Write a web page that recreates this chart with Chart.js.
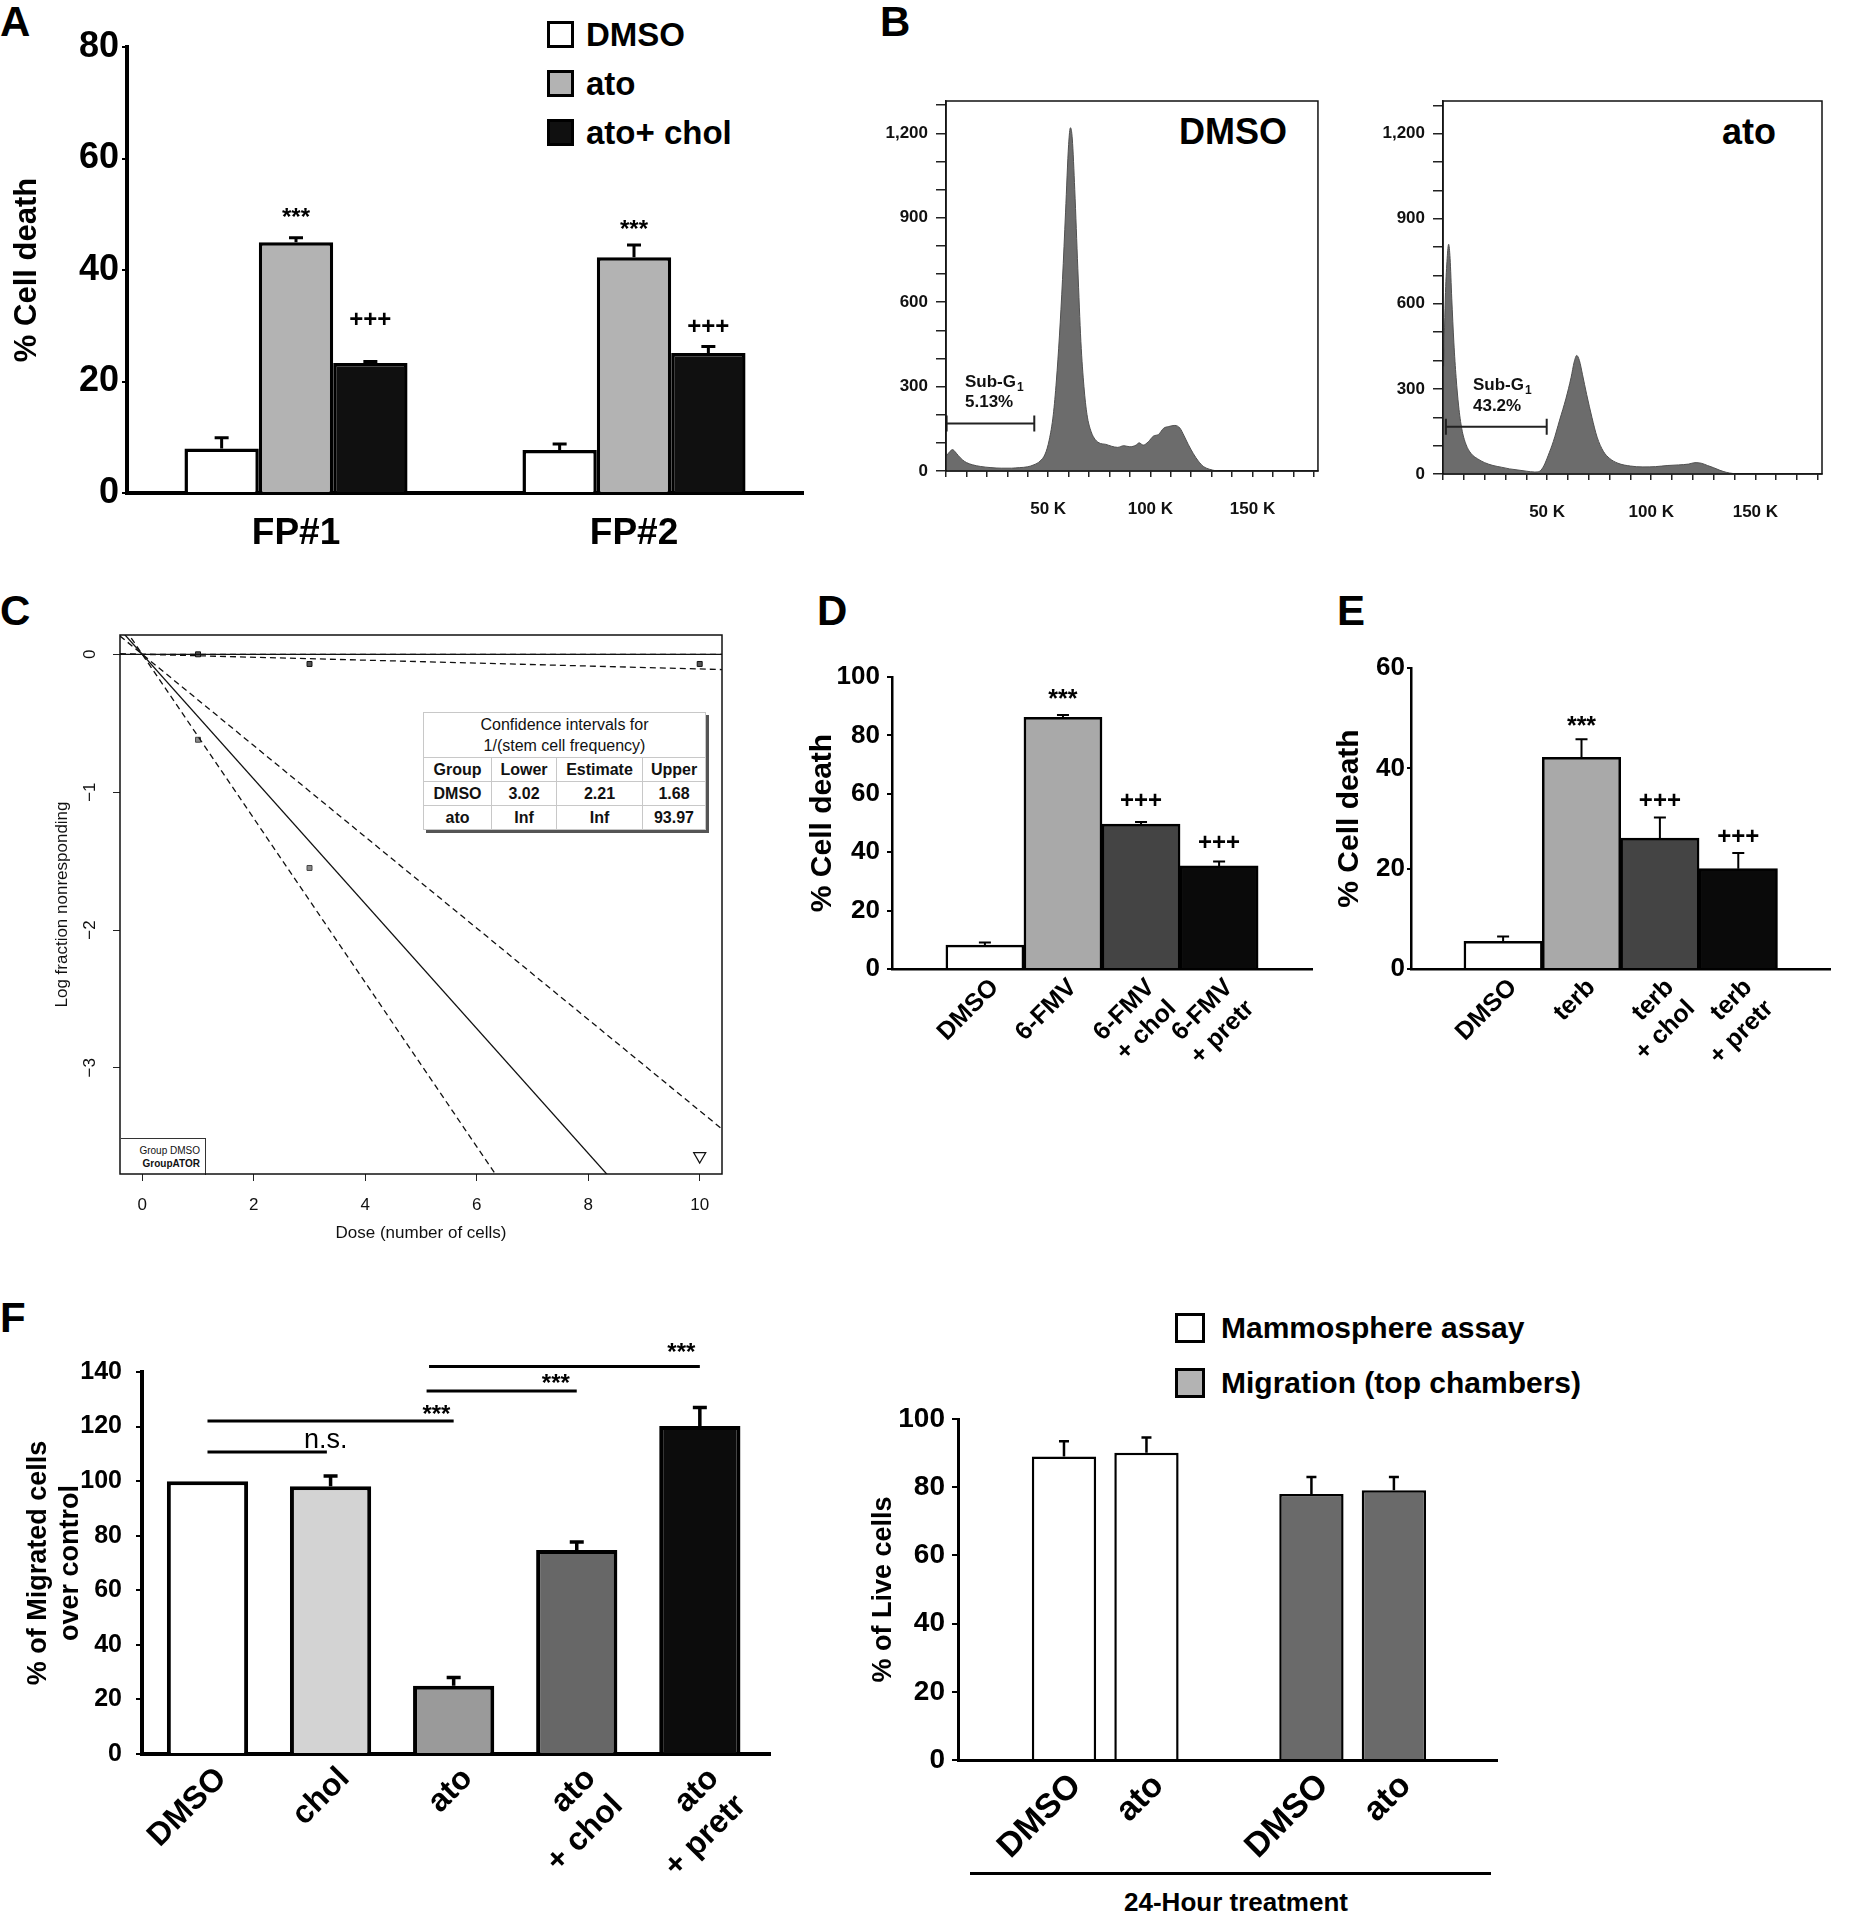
<!DOCTYPE html>
<html>
<head>
<meta charset="utf-8">
<title>Cell death, sub-G1, stem cell frequency and migration</title>
<script src="https://cdn.jsdelivr.net/npm/chart.js@4.4.1/dist/chart.umd.min.js"></script>
<style>
  html, body { margin: 0; padding: 0; background: #fff; }
  body { position: relative; width: 1850px; height: 1915px; overflow: hidden;
         font-family: "Liberation Sans", Arial, sans-serif; color: #000; }
  canvas { position: absolute; }
  .letter { position: absolute; font-size: 42px; font-weight: bold; line-height: 1; }
  .leg { position: absolute; display: flex; align-items: center; font-weight: bold; line-height: 1; white-space: nowrap; }
  .leg span { display: inline-block; box-sizing: border-box; border: 3px solid #000; }
  .tag { position: absolute; font-weight: bold; line-height: 1; text-align: center; }
  #ci { position: absolute; left: 423px; top: 712px; border-collapse: collapse; background: #fff;
        box-shadow: 3px 3px 0 #555; font-size: 16px; color: #111; }
  #ci td { border: 1px solid #c8c8c8; text-align: center; padding: 0; height: 23px; font-weight: bold; }
  #ci td.cap { font-weight: normal; height: 44px; line-height: 21px; }
  #cleg { position: absolute; left: 121px; top: 1138px; width: 85px; height: 37px; box-sizing: border-box;
          border-top: 1px solid #333; border-right: 1px solid #333; font-size: 10px; line-height: 13px;
          text-align: right; padding: 5px 5px 0 0; color: #111; }
</style>
</head>
<body>
<div class="letter" style="left:0;top:1px">A</div>
<div class="letter" style="left:880px;top:1px">B</div>
<div class="letter" style="left:0;top:590px">C</div>
<div class="letter" style="left:817px;top:590px">D</div>
<div class="letter" style="left:1337px;top:590px">E</div>
<div class="letter" style="left:0;top:1297px">F</div>

<div class="tag" style="left:1133px;top:114px;width:200px;font-size:36px">DMSO</div>
<div class="tag" style="left:1649px;top:114px;width:200px;font-size:36px">ato</div>

<table id="ci"></table>
<div id="cleg">Group DMSO<br><b>GroupATOR</b></div>

<div style="position:absolute;left:970px;top:1872px;width:521px;height:3px;background:#000"></div>
<div class="tag" style="left:1086px;top:1889px;width:300px;font-size:26px">24-Hour treatment</div>

<script>
// ---- A: % cell death in two patient samples
const aGroups = ['FP#1', 'FP#2'];
const aTreatments = ['DMSO', 'ato', 'ato+ chol'];
const aColors = ['#ffffff', '#b3b3b3', '#101010'];
const aDmso = [8.0, 7.7];
const aDmsoErr = [1.9, 1.1];
const aAto = [45.0, 42.3];
const aAtoErr = [0.8, 2.2];
const aChol = [23.3, 25.1];
const aCholErr = [0.3, 1.2];
const aAtoSig = ['***', '***'];
const aAtoSigAt = [48.1, 45.9];
const aCholSig = ['+++', '+++'];
const aCholSigAt = [29.7, 28.6];

// ---- B: DNA content histograms (channel in K, event count)
const bDmsoChannel = [0.3, 2, 3.2, 4.5, 6, 8, 10, 13, 17, 22, 27, 32, 36, 40, 43, 46, 48.5, 50.5, 52.5, 54,
  55.5, 57, 58.5, 60, 60.9, 61.8, 63, 64.5, 66, 67.5, 69, 71, 73, 75.5, 78, 81, 84, 87, 90, 93,
  94.5, 96.5, 99, 101.5, 104, 106.5, 109, 112, 114.5, 116.5, 118.5, 121, 123.5, 126, 129, 132, 134, 182];
const bDmsoCount = [55, 70, 76, 68, 55, 40, 30, 22, 16, 12, 10, 10, 12, 15, 22, 35, 60, 110, 200, 320,
  480, 680, 920, 1160, 1220, 1180, 1000, 720, 460, 300, 200, 140, 112, 98, 95, 88, 84, 90, 86, 92,
  100, 92, 104, 124, 130, 152, 158, 162, 152, 125, 95, 62, 35, 16, 6, 1, 0, 0];
const bAtoChannel = [0.3, 1.2, 2.0, 2.7, 3.4, 4.2, 5.2, 6.3, 7.5, 9, 11, 13.5, 16.5, 20, 24, 28, 32, 36, 40, 44,
  46.5, 48.5, 50.5, 53, 56, 59, 61.5, 63, 64.2, 65.5, 67, 69, 71.5, 74, 77, 80, 84, 90, 96, 102,
  108, 113, 118, 121, 124, 127, 130, 133, 136, 139, 142, 182];
const bAtoCount = [380, 640, 760, 810, 760, 620, 465, 340, 240, 160, 105, 72, 54, 40, 30, 24, 18, 14, 10, 7,
  10, 30, 65, 115, 190, 265, 340, 395, 418, 400, 350, 280, 200, 130, 80, 55, 38, 28, 25, 26,
  30, 32, 35, 40, 38, 30, 22, 13, 6, 2, 0, 0];
const bGateName = ['Sub-G', '1'];
const bSubG1 = ['5.13%', '43.2%'];
const bGateFrom = [0.3, 1.4];
const bGateTo = [43.2, 49.8];
const bGateLevel = [169, 167];
const bLabelX = [9.3, 14.4];
const bLabelAt = [299, 296];
const bPctAt = [228, 223];

// ---- C: limiting dilution, confidence intervals for 1/(stem cell frequency)
const ciHeader = ['Group', 'Lower', 'Estimate', 'Upper'];
const ciGroups = ['DMSO', 'ato'];
const ciLower = [3.02, Infinity];
const ciEstimate = [2.21, Infinity];
const ciUpper = [1.68, 93.97];
const cDose = [1, 3, 10];
const cSteepLog = [-0.62, -1.55, null];
const cFlatLog = [0, -0.07, -0.07];
const cCensoredDose = [10];
const cCensoredLog = [-3.64];

// ---- D: 6-FMV
const dPos = [1, 2, 3, 4];
const dLabels = ['DMSO', '6-FMV', ['6-FMV', '+ chol'], ['6-FMV', '+ pretr']];
const dValues = [8.2, 86.2, 49.6, 35.3];
const dErr = [0.9, 0.8, 0.7, 1.5];
const dSig = ['', '***', '+++', '+++'];
const dSigAt = [0, 89.7, 55.1, 40.8];

// ---- E: terbinafine
const ePos = [1, 2, 3, 4];
const eLabels = ['DMSO', 'terb', ['terb', '+ chol'], ['terb', '+ pretr']];
const eValues = [5.5, 42.2, 26.1, 20.0];
const eErr = [1.0, 3.6, 4.1, 3.1];
const eSig = ['', '***', '+++', '+++'];
const eSigAt = [0, 46.8, 32.0, 25.0];

const cdColors = ['#ffffff', '#a9a9a9', '#444444', '#0a0a0a'];

// ---- F left: migration
const fPos = [1, 2, 3, 4, 5];
const fLabels = ['DMSO', 'chol', 'ato', ['ato', '+ chol'], ['ato', '+ pretr']];
const fValues = [100, 98.1, 25.0, 74.8, 120.2];
const fErr = [0, 3.8, 3.0, 2.9, 6.8];
const fColors = ['#ffffff', '#d3d3d3', '#9a9a9a', '#676767', '#0c0c0c'];
const fBracketFrom = [1, 1, 2.78, 2.8];
const fBracketTo = [1.97, 3, 4, 5];
const fBracketAt = [110.7, 122, 133, 142];
const fBracketText = ['n.s.', '***', '***', '***'];
const fBracketTextX = [1.96, 2.86, 3.83, 4.85];
const fBracketTextAt = [112, 121.7, 133, 144.4];

// ---- F right: live cells after 24 h
const gPos = [1, 2, 4, 5];
const gLabels = ['DMSO', 'ato', 'DMSO', 'ato'];
const gSeries = ['Mammosphere assay', 'Migration (top chambers)'];
const gMammo = [89.0, 90.1];
const gMammoErr = [4.5, 4.5];
const gMigr = [78.0, 79.1];
const gMigrErr = [5.0, 3.9];

const FONT = '"Liberation Sans", Arial, sans-serif';
Chart.defaults.font.family = FONT;
Chart.defaults.color = '#000';
Chart.defaults.animation = false;
Chart.defaults.responsive = false;
Chart.defaults.plugins.legend.display = false;
Chart.defaults.plugins.tooltip.enabled = false;

function place(left, top, width, height) {
  const c = document.createElement('canvas');
  c.width = width;
  c.height = height;
  c.style.left = left + 'px';
  c.style.top = top + 'px';
  document.body.appendChild(c);
  return c;
}

function legend(x, y, gap, box, size, margin, labels, colors) {
  labels.forEach((t, i) => {
    const row = document.createElement('div');
    row.className = 'leg';
    row.style.left = x + 'px';
    row.style.top = (y + i * gap) + 'px';
    row.style.fontSize = size + 'px';
    row.innerHTML = '<span style="width:' + box + 'px;height:' + box + 'px;margin-right:' + margin +
      'px;background:' + colors[i] + '"></span>' + t;
    document.body.appendChild(row);
  });
}

// error bars pointing up from the bar top
function errorBars(lineWidth, cap) {
  return {
    id: 'errorBars',
    afterDatasetsDraw(chart) {
      const ctx = chart.ctx, ys = chart.scales.y;
      ctx.save();
      ctx.strokeStyle = '#000';
      ctx.lineWidth = lineWidth;
      chart.data.datasets.forEach((ds, di) => {
        if (!ds.errUp) return;
        chart.getDatasetMeta(di).data.forEach((bar, i) => {
          const e = ds.errUp[i];
          if (!e) return;
          const raw = ds.data[i];
          const v = typeof raw === 'object' ? raw.y : raw;
          const top = ys.getPixelForValue(v + e);
          ctx.beginPath();
          ctx.moveTo(bar.x, bar.y);
          ctx.lineTo(bar.x, top);
          ctx.moveTo(bar.x - cap, top);
          ctx.lineTo(bar.x + cap, top);
          ctx.stroke();
        });
      });
      ctx.restore();
    }
  };
}

function sigMarks(fonts) {
  return {
    id: 'sigMarks',
    afterDatasetsDraw(chart) {
      const ctx = chart.ctx, ys = chart.scales.y;
      ctx.save();
      ctx.fillStyle = '#000';
      ctx.textAlign = 'center';
      ctx.textBaseline = 'alphabetic';
      chart.data.datasets.forEach((ds, di) => {
        if (!ds.sig) return;
        chart.getDatasetMeta(di).data.forEach((bar, i) => {
          if (!ds.sig[i]) return;
          ctx.font = fonts[ds.sig[i]];
          ctx.fillText(ds.sig[i], bar.x, ys.getPixelForValue(ds.sigAt[i]));
        });
      });
      ctx.restore();
    }
  };
}

const frame = {
  id: 'frame',
  afterDraw(chart) {
    const {ctx, chartArea: a} = chart;
    ctx.save();
    ctx.strokeStyle = '#111';
    ctx.lineWidth = 1.5;
    ctx.strokeRect(a.left, a.top, a.right - a.left, a.bottom - a.top);
    ctx.restore();
  }
};

function gate(i) {
  return {
    id: 'gate',
    afterDatasetsDraw(chart) {
      const {ctx, scales: {x, y}} = chart;
      const x1 = x.getPixelForValue(bGateFrom[i]);
      const x2 = x.getPixelForValue(bGateTo[i]);
      const gy = y.getPixelForValue(bGateLevel[i]);
      ctx.save();
      ctx.strokeStyle = '#222';
      ctx.lineWidth = 2;
      ctx.beginPath();
      ctx.moveTo(x1, gy); ctx.lineTo(x2, gy);
      ctx.moveTo(x1, gy - 8); ctx.lineTo(x1, gy + 8);
      ctx.moveTo(x2, gy - 8); ctx.lineTo(x2, gy + 8);
      ctx.stroke();
      const lx = x.getPixelForValue(bLabelX[i]);
      const base = y.getPixelForValue(bLabelAt[i]);
      ctx.fillStyle = '#111';
      ctx.textAlign = 'left';
      ctx.textBaseline = 'alphabetic';
      ctx.font = 'bold 17px ' + FONT;
      ctx.fillText(bGateName[0], lx, base);
      const w = ctx.measureText(bGateName[0]).width;
      ctx.font = 'bold 12px ' + FONT;
      ctx.fillText(bGateName[1], lx + w + 1, base + 4);
      ctx.font = 'bold 17px ' + FONT;
      ctx.fillText(bSubG1[i], lx, y.getPixelForValue(bPctAt[i]));
      ctx.restore();
    }
  };
}

// R-style y labels, rotated
const rotYLabels = {
  id: 'rotYLabels',
  afterDraw(chart) {
    const ctx = chart.ctx, s = chart.scales.y;
    ctx.save();
    ctx.font = '17px ' + FONT;
    ctx.fillStyle = '#111';
    ctx.textAlign = 'center';
    ctx.textBaseline = 'middle';
    s.ticks.forEach(t => {
      ctx.save();
      ctx.translate(90, s.getPixelForValue(t.value));
      ctx.rotate(-Math.PI / 2);
      ctx.fillText(t.value < 0 ? '\u2212' + Math.abs(t.value) : String(t.value), 0, 0);
      ctx.restore();
    });
    ctx.restore();
  }
};

const brackets = {
  id: 'brackets',
  afterDatasetsDraw(chart) {
    const {ctx, scales: {x, y}} = chart;
    ctx.save();
    ctx.strokeStyle = '#000';
    ctx.fillStyle = '#000';
    ctx.lineWidth = 3;
    ctx.textAlign = 'center';
    ctx.textBaseline = 'alphabetic';
    fBracketFrom.forEach((from, i) => {
      const py = y.getPixelForValue(fBracketAt[i]);
      ctx.beginPath();
      ctx.moveTo(x.getPixelForValue(from), py);
      ctx.lineTo(x.getPixelForValue(fBracketTo[i]), py);
      ctx.stroke();
      ctx.font = fBracketText[i] === 'n.s.' ? '27px ' + FONT : 'bold 24px ' + FONT;
      ctx.fillText(fBracketText[i], x.getPixelForValue(fBracketTextX[i]), y.getPixelForValue(fBracketTextAt[i]));
    });
    ctx.restore();
  }
};

function valueAxis(max, step, o) {
  return {
    min: 0, max: max,
    ticks: {stepSize: step, font: {size: o.tick, weight: 'bold'}, color: '#000', padding: o.pad},
    grid: {drawOnChartArea: false, drawTicks: true, tickLength: o.tl, color: '#000', lineWidth: 2},
    border: {color: '#000', width: o.lw},
    title: {display: true, text: o.title, font: {size: o.tsize, weight: 'bold'}, color: '#000',
            padding: {top: o.tpad, bottom: 0}},
    afterFit: s => { s.width = o.width; }
  };
}

function groupAxis(pos, labels, min, max, o) {
  return {
    type: 'linear', min: min, max: max, offset: false,
    afterBuildTicks: s => { s.ticks = pos.map(v => ({value: v})); },
    ticks: {autoSkip: false, minRotation: 45, maxRotation: 45, callback: (v, i) => labels[i],
            font: {size: o.tick, weight: 'bold'}, color: '#000', padding: o.pad, labelOffset: o.shift},
    grid: {display: false, drawTicks: false, offset: false},
    border: {color: '#000', width: o.lw},
    afterFit: s => { s.height = o.height; }
  };
}

// ---------- A ----------
legend(547, 18, 49, 27, 33, 12, aTreatments, aColors);
new Chart(place(0, 0, 820, 560), {
  type: 'bar',
  data: {
    labels: aGroups,
    datasets: [
      {label: aTreatments[0], data: aDmso, errUp: aDmsoErr, backgroundColor: aColors[0]},
      {label: aTreatments[1], data: aAto, errUp: aAtoErr, backgroundColor: aColors[1], sig: aAtoSig, sigAt: aAtoSigAt},
      {label: aTreatments[2], data: aChol, errUp: aCholErr, backgroundColor: aColors[2], sig: aCholSig, sigAt: aCholSigAt}
    ]
  },
  options: {
    layout: {padding: {top: 47, right: 17, left: 0, bottom: 0}},
    datasets: {bar: {borderColor: '#000', borderWidth: 3.5, categoryPercentage: 0.66, barPercentage: 1}},
    scales: {
      x: {grid: {display: false, drawTicks: false}, border: {color: '#000', width: 4},
          ticks: {font: {size: 37, weight: 'bold'}, color: '#000', padding: 19},
          afterFit: s => { s.height = 67; }},
      y: valueAxis(80, 20, {tick: 36, pad: 3, tl: 5, lw: 4, title: '% Cell death', tsize: 31, tpad: 9, width: 127})
    }
  },
  plugins: [errorBars(3, 7), sigMarks({'***': 'bold 24px ' + FONT, '+++': 'bold 24px ' + FONT})]
});

// ---------- B ----------
function histogram(canvas, channel, count, idx) {
  return new Chart(canvas, {
    type: 'line',
    data: {datasets: [{
      data: channel.map((c, i) => ({x: c, y: count[i]})),
      fill: 'origin', backgroundColor: '#6c6c6c', borderColor: '#505050', borderWidth: 1,
      pointRadius: 0, cubicInterpolationMode: 'monotone'
    }]},
    options: {
      layout: {padding: {top: 41, right: 12, left: 0, bottom: 0}},
      scales: {
        x: {type: 'linear', min: 0, max: 182,
            ticks: {stepSize: 10, includeBounds: false, autoSkip: false, maxRotation: 0,
                    callback: v => (v > 0 && v % 50 === 0) ? v + ' K' : '',
                    font: {size: 17, weight: 'bold', lineHeight: 1.9}, color: '#111', padding: 16},
            grid: {drawOnChartArea: false, tickLength: 6, color: '#222', lineWidth: 1.5},
            border: {color: '#222', width: 1.5},
            afterFit: s => { s.height = 60; }},
        y: {min: 0, max: 1315,
            ticks: {stepSize: 100, includeBounds: false, autoSkip: false,
                    callback: v => v % 300 === 0 ? v.toLocaleString('en-US') : '',
                    font: {size: 17, weight: 'bold'}, color: '#111', padding: 8},
            grid: {drawOnChartArea: false, tickLength: 10, color: '#222', lineWidth: 1.5},
            border: {color: '#222', width: 1.5},
            afterFit: s => { s.width = 70; }}
      }
    },
    plugins: [frame, gate(idx)]
  });
}
histogram(place(876, 60, 454, 471), bDmsoChannel, bDmsoCount, 0);
histogram(place(1373, 60, 461, 474), bAtoChannel, bAtoCount, 1);

// ---------- C ----------
(function () {
  const fmt = v => v === Infinity ? 'Inf' : v.toFixed(2);
  let html = '<colgroup><col style="width:68px"><col style="width:65px"><col style="width:86px"><col style="width:63px"></colgroup>';
  html += '<tr><td class="cap" colspan="4">Confidence intervals for<br>1/(stem cell frequency)</td></tr>';
  html += '<tr>' + ciHeader.map(h => '<td>' + h + '</td>').join('') + '</tr>';
  ciGroups.forEach((g, i) => {
    html += '<tr><td>' + g + '</td><td>' + fmt(ciLower[i]) + '</td><td>' + fmt(ciEstimate[i]) +
      '</td><td>' + fmt(ciUpper[i]) + '</td></tr>';
  });
  document.getElementById('ci').innerHTML = html;
})();

const cXMin = -0.4, cXMax = 10.4;
const cLines = [];
ciGroups.forEach((g, gi) => {
  [ciEstimate, ciLower, ciUpper].forEach((arr, k) => {
    const f = arr[gi];
    cLines.push({
      data: [{x: cXMin, y: -cXMin / f}, {x: cXMax, y: -cXMax / f}],
      showLine: true, pointRadius: 0, borderColor: '#111', borderWidth: 1.3,
      borderDash: k === 0 ? [] : [6, 4]
    });
  });
});

new Chart(place(0, 595, 735, 650), {
  type: 'scatter',
  data: {datasets: cLines.concat([
    {data: cDose.map((d, i) => ({x: d, y: cSteepLog[i]})), pointStyle: 'rect', pointRadius: 3.5,
     backgroundColor: '#8a8a8a', borderColor: '#444', borderWidth: 1},
    {data: cDose.map((d, i) => ({x: d, y: cFlatLog[i]})), pointStyle: 'rect', pointRadius: 3.5,
     backgroundColor: '#555', borderColor: '#111', borderWidth: 1},
    {data: cCensoredDose.map((d, i) => ({x: d, y: cCensoredLog[i]})), pointStyle: 'triangle', pointRotation: 180,
     pointRadius: 7, backgroundColor: '#fff', borderColor: '#111', borderWidth: 1.2}
  ])},
  options: {
    layout: {padding: {top: 40, right: 13, left: 0, bottom: 0}},
    scales: {
      x: {type: 'linear', min: cXMin, max: cXMax,
          ticks: {stepSize: 2, includeBounds: false, font: {size: 17}, color: '#111', padding: 14},
          grid: {drawOnChartArea: false, tickLength: 7, color: '#222', lineWidth: 1},
          border: {display: false},
          title: {display: true, text: 'Dose (number of cells)', font: {size: 17}, color: '#111', padding: {top: 0, bottom: 1}},
          afterFit: s => { s.height = 71; }},
      y: {min: -3.77, max: 0.14,
          ticks: {stepSize: 1, includeBounds: false, display: false},
          grid: {drawOnChartArea: false, tickLength: 7, color: '#222', lineWidth: 1},
          border: {display: false},
          title: {display: true, text: 'Log fraction nonresponding', font: {size: 17}, color: '#111', padding: {top: 52, bottom: 0}},
          afterFit: s => { s.width = 120; }}
    }
  },
  plugins: [frame, rotYLabels]
});

// ---------- D ----------
new Chart(place(800, 640, 520, 460), {
  type: 'bar',
  data: {datasets: [{data: dPos.map((p, i) => ({x: p, y: dValues[i]})), backgroundColor: cdColors,
                     errUp: dErr, sig: dSig, sigAt: dSigAt}]},
  options: {
    layout: {padding: {top: 37, right: 8, left: 0, bottom: 0}},
    datasets: {bar: {borderColor: '#000', borderWidth: 2.5, categoryPercentage: 1, barPercentage: 1}},
    scales: {
      x: groupAxis(dPos, dLabels, -0.19, 5.19, {tick: 25, pad: 4, lw: 2.5, height: 131, shift: 10}),
      y: valueAxis(100, 20, {tick: 26, pad: 7, tl: 5, lw: 2.5, title: '% Cell death', tsize: 30, tpad: 5, width: 92})
    }
  },
  plugins: [errorBars(2, 6), sigMarks({'***': 'bold 25px ' + FONT, '+++': 'bold 24px ' + FONT})]
});

// ---------- E ----------
new Chart(place(1320, 630, 525, 470), {
  type: 'bar',
  data: {datasets: [{data: ePos.map((p, i) => ({x: p, y: eValues[i]})), backgroundColor: cdColors,
                     errUp: eErr, sig: eSig, sigAt: eSigAt}]},
  options: {
    layout: {padding: {top: 38, right: 15, left: 0, bottom: 0}},
    datasets: {bar: {borderColor: '#000', borderWidth: 2.5, categoryPercentage: 1, barPercentage: 1}},
    scales: {
      x: groupAxis(ePos, eLabels, -0.175, 5.17, {tick: 25, pad: 4, lw: 2.5, height: 131, shift: 10}),
      y: valueAxis(60, 20, {tick: 26, pad: 2, tl: 4, lw: 2.5, title: '% Cell death', tsize: 30, tpad: 12, width: 91})
    }
  },
  plugins: [errorBars(2, 6), sigMarks({'***': 'bold 25px ' + FONT, '+++': 'bold 24px ' + FONT})]
});

// ---------- F left ----------
new Chart(place(0, 1310, 790, 605), {
  type: 'bar',
  data: {datasets: [{data: fPos.map((p, i) => ({x: p, y: fValues[i]})), backgroundColor: fColors, errUp: fErr}]},
  options: {
    layout: {padding: {top: 62, right: 20, left: 0, bottom: 0}},
    datasets: {bar: {borderColor: '#000', borderWidth: 4, categoryPercentage: 1, barPercentage: 0.66}},
    scales: {
      x: groupAxis(fPos, fLabels, 0.468, 5.57, {tick: 32, pad: 6, lw: 4, height: 161, shift: 14}),
      y: valueAxis(140, 20, {tick: 25, pad: 14, tl: 6, lw: 4, title: ['% of Migrated cells', 'over control'], tsize: 27, tpad: 22, width: 142})
    }
  },
  plugins: [errorBars(3.5, 7), brackets]
});

// ---------- F right ----------
legend(1175, 1313, 55, 30, 30, 16, gSeries, ['#ffffff', '#b3b3b3']);
new Chart(place(850, 1390, 670, 525), {
  type: 'bar',
  data: {datasets: [
    {label: gSeries[0], data: gMammo.map((v, i) => ({x: gPos[i], y: v})), backgroundColor: '#ffffff', errUp: gMammoErr},
    {label: gSeries[1], data: gMigr.map((v, i) => ({x: gPos[i + 2], y: v})), backgroundColor: '#6a6a6a', errUp: gMigrErr}
  ]},
  options: {
    layout: {padding: {top: 29, right: 23, left: 0, bottom: 0}},
    datasets: {bar: {borderColor: '#000', borderWidth: 2.5, categoryPercentage: 1, barPercentage: 0.78, grouped: false}},
    scales: {
      x: groupAxis(gPos, gLabels, -0.285, 6.25, {tick: 34, pad: 6, lw: 3, height: 155, shift: 12}),
      y: valueAxis(100, 20, {tick: 28, pad: 7, tl: 6, lw: 3, title: '% of Live cells', tsize: 27, tpad: 17, width: 108})
    }
  },
  plugins: [errorBars(2.5, 5)]
});
</script>
</body>
</html>
